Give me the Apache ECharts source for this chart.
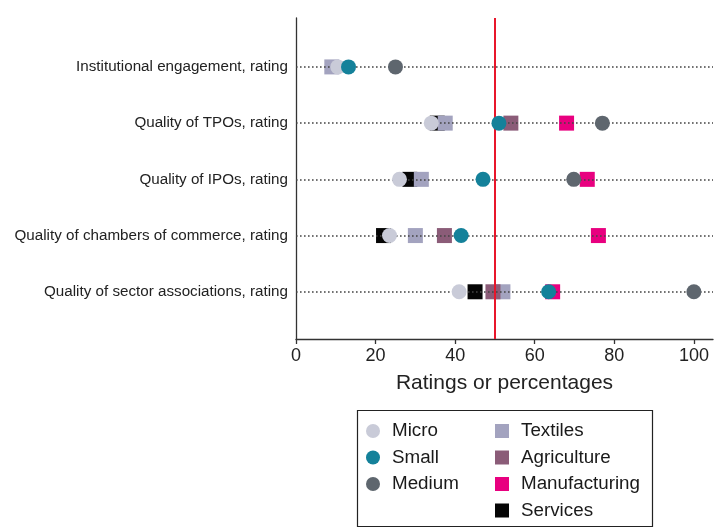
<!DOCTYPE html>
<html>
<head>
<meta charset="utf-8">
<script src="https://cdn.jsdelivr.net/npm/echarts@6/dist/echarts.min.js"></script>
<style>html,body{margin:0;padding:0;background:#fff;}#c{width:724px;height:528px;}</style>
</head>
<body>
<div id="c"></div>
<script>
var categories = [
  'Institutional engagement, rating',
  'Quality of TPOs, rating',
  'Quality of IPOs, rating',
  'Quality of chambers of commerce, rating',
  'Quality of sector associations, rating'
];
var xTicks = [0, 20, 40, 60, 80, 100];
var referenceValue = 50;

var micro         = [10.5, 34,   26,   23.5, 41];
var small         = [13.2, 51,   47,   41.5, 63.5];
var medium        = [25,   77,   69.8, null, 100];
var textiles      = [9,    37.5, 31.5, 30,   52];
var agriculture   = [null, 54,   null, 37.3, 49.5];
var manufacturing = [null, 68,   73.2, 76,   64.5];
var services      = [null, 35.5, 28.6, 22,   45];

function pts(arr) {
  var out = [];
  arr.forEach(function (v, i) { if (v !== null) out.push([v, i + 1]); });
  return out;
}

var FONT = 'Liberation Sans, Arial, sans-serif';
var seriesDefs = [
  {name: 'Micro', data: micro, symbol: 'circle', color: '#c9cbd8', z: 5},
  {name: 'Small', data: small, symbol: 'circle', color: '#14819a', z: 5},
  {name: 'Medium', data: medium, symbol: 'circle', color: '#5e666e', z: 5},
  {name: 'Textiles', data: textiles, symbol: 'rect', color: '#a3a3bf', z: 4},
  {name: 'Agriculture', data: agriculture, symbol: 'rect', color: '#8b5c78', z: 4},
  {name: 'Manufacturing', data: manufacturing, symbol: 'rect', color: '#e8007f', z: 4},
  {name: 'Services', data: services, symbol: 'rect', color: '#050505', z: 3}
];

var series = [{
  name: 'guides', type: 'scatter', data: [], z: 1, silent: true,
  markLine: {
    silent: true, symbol: ['none', 'none'], animation: false,
    label: {show: false},
    data: categories.map(function (c, i) {
      return {yAxis: i + 1, lineStyle: {color: '#444', type: [1.6, 2.4], width: 1.6}};
    }).concat([{xAxis: referenceValue, lineStyle: {color: '#e8162b', type: 'solid', width: 2}}])
  }
}];
seriesDefs.forEach(function (d) {
  series.push({
    name: d.name, type: 'scatter', symbol: d.symbol,
    symbolSize: 15,
    itemStyle: {color: d.color, opacity: 1},
    z: d.z, data: pts(d.data), animation: false
  });
});

var chart = echarts.init(document.getElementById('c'), null, {renderer: 'canvas'});
var legendText = {fontSize: 18.8, color: '#1a1a1a', fontFamily: FONT, lineHeight: 20, padding: [0, 0, 0, 7]};
chart.setOption({
  animation: false,
  textStyle: {fontFamily: FONT},
  grid: {left: 296, right: 11, top: 18, bottom: 189, containLabel: false},
  xAxis: {
    type: 'value', min: 0, max: 104.8, interval: 20,
    axisLine: {show: true, lineStyle: {color: '#333', width: 1.3}},
    axisTick: {show: true, length: 5, lineStyle: {color: '#333', width: 1.3}, customValues: xTicks},
    axisLabel: {fontSize: 18, color: '#222', margin: 8, fontFamily: FONT, customValues: xTicks},
    splitLine: {show: false},
    name: 'Ratings or percentages', nameLocation: 'middle', nameGap: 34,
    nameTextStyle: {fontSize: 21, color: '#222', fontFamily: FONT}
  },
  yAxis: {
    type: 'value', inverse: true, min: 0.13, max: 5.84,
    axisLine: {show: true, lineStyle: {color: '#333', width: 1.3}},
    axisTick: {show: false},
    splitLine: {show: false},
    axisLabel: {
      fontSize: 15.2, color: '#222', margin: 8, fontFamily: FONT,
      customValues: categories.map(function (c, i) { return i + 1; }),
      formatter: function (v) { return categories[Math.round(v) - 1] || ''; }
    }
  },
  legend: [
    {data: ['Micro', 'Small', 'Medium'], orient: 'vertical', left: 366, top: 421, padding: 0,
     itemWidth: 14, itemHeight: 14, itemGap: 6.5, textStyle: legendText, selectedMode: false},
    {data: ['Textiles', 'Agriculture', 'Manufacturing', 'Services'], orient: 'vertical', left: 495, top: 421, padding: 0,
     height: 107, itemWidth: 14, itemHeight: 14, itemGap: 6.5, textStyle: legendText, selectedMode: false}
  ],
  graphic: [{
    type: 'rect', shape: {x: 357.5, y: 410.5, width: 295, height: 116},
    style: {fill: 'none', stroke: '#222', lineWidth: 1.2}, z: 0
  }],
  series: series
});
</script>
</body>
</html>
